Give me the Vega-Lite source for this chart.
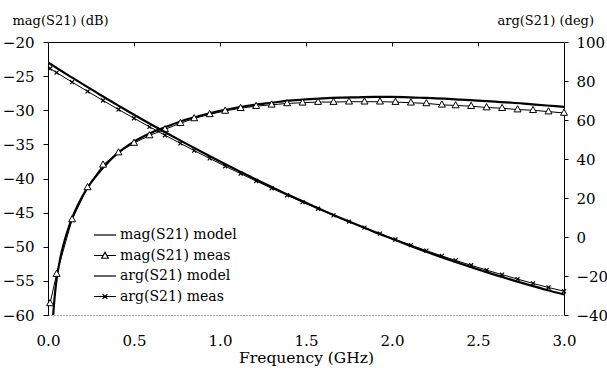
{
  "$schema": "https://vega.github.io/schema/vega-lite/v6.json",
  "width": 516,
  "height": 273,
  "autosize": {"type": "none"},
  "padding": {"left": 48, "top": 42, "right": 43, "bottom": 53},
  "background": "white",
  "config": {
    "font": "DejaVu Serif",
    "view": {"stroke": null},
    "axis": {
      "labelFont": "DejaVu Serif",
      "titleFont": "DejaVu Serif",
      "labelColor": "black",
      "titleColor": "black",
      "domainColor": "black",
      "tickColor": "black",
      "grid": false,
      "titleFontWeight": "normal",
      "labelFontSize": 15,
      "titleFontSize": 13,
      "labelFlush": false,
      "labelOverlap": false
    },
    "legend": {
      "labelFont": "DejaVu Serif",
      "labelFontSize": 14,
      "labelColor": "black"
    }
  },
  "data": {
    "values": [
      {"series": "mag(S21) model", "f": 0.03, "v": -60},
      {"series": "mag(S21) model", "f": 0.04, "v": -57.0},
      {"series": "mag(S21) model", "f": 0.05, "v": -54.8},
      {"series": "mag(S21) model", "f": 0.06, "v": -53.2},
      {"series": "mag(S21) model", "f": 0.08, "v": -50.7},
      {"series": "mag(S21) model", "f": 0.10, "v": -48.8},
      {"series": "mag(S21) model", "f": 0.12, "v": -47.2},
      {"series": "mag(S21) model", "f": 0.15, "v": -45.2},
      {"series": "mag(S21) model", "f": 0.20, "v": -42.6},
      {"series": "mag(S21) model", "f": 0.25, "v": -40.6},
      {"series": "mag(S21) model", "f": 0.30, "v": -39.0},
      {"series": "mag(S21) model", "f": 0.35, "v": -37.6},
      {"series": "mag(S21) model", "f": 0.40, "v": -36.4},
      {"series": "mag(S21) model", "f": 0.50, "v": -34.6},
      {"series": "mag(S21) model", "f": 0.60, "v": -33.3},
      {"series": "mag(S21) model", "f": 0.70, "v": -32.3},
      {"series": "mag(S21) model", "f": 0.80, "v": -31.4},
      {"series": "mag(S21) model", "f": 0.90, "v": -30.7},
      {"series": "mag(S21) model", "f": 1.00, "v": -30.1},
      {"series": "mag(S21) model", "f": 1.10, "v": -29.6},
      {"series": "mag(S21) model", "f": 1.20, "v": -29.2},
      {"series": "mag(S21) model", "f": 1.30, "v": -28.9},
      {"series": "mag(S21) model", "f": 1.40, "v": -28.6},
      {"series": "mag(S21) model", "f": 1.50, "v": -28.4},
      {"series": "mag(S21) model", "f": 1.60, "v": -28.25},
      {"series": "mag(S21) model", "f": 1.70, "v": -28.15},
      {"series": "mag(S21) model", "f": 1.80, "v": -28.1},
      {"series": "mag(S21) model", "f": 1.90, "v": -28.05},
      {"series": "mag(S21) model", "f": 2.00, "v": -28.05},
      {"series": "mag(S21) model", "f": 2.10, "v": -28.1},
      {"series": "mag(S21) model", "f": 2.20, "v": -28.2},
      {"series": "mag(S21) model", "f": 2.30, "v": -28.3},
      {"series": "mag(S21) model", "f": 2.40, "v": -28.45},
      {"series": "mag(S21) model", "f": 2.50, "v": -28.6},
      {"series": "mag(S21) model", "f": 2.60, "v": -28.75},
      {"series": "mag(S21) model", "f": 2.70, "v": -28.9},
      {"series": "mag(S21) model", "f": 2.80, "v": -29.1},
      {"series": "mag(S21) model", "f": 2.90, "v": -29.3},
      {"series": "mag(S21) model", "f": 3.00, "v": -29.5},

      {"series": "mag(S21) meas", "f": 0.012, "v": -58.3},
      {"series": "mag(S21) meas", "f": 0.05, "v": -54.0},
      {"series": "mag(S21) meas", "f": 0.14, "v": -46.0},
      {"series": "mag(S21) meas", "f": 0.23, "v": -41.3},
      {"series": "mag(S21) meas", "f": 0.32, "v": -38.0},
      {"series": "mag(S21) meas", "f": 0.41, "v": -36.2},
      {"series": "mag(S21) meas", "f": 0.50, "v": -34.8},
      {"series": "mag(S21) meas", "f": 0.59, "v": -33.7},
      {"series": "mag(S21) meas", "f": 0.68, "v": -32.8},
      {"series": "mag(S21) meas", "f": 0.77, "v": -31.9},
      {"series": "mag(S21) meas", "f": 0.85, "v": -31.2},
      {"series": "mag(S21) meas", "f": 0.94, "v": -30.6},
      {"series": "mag(S21) meas", "f": 1.03, "v": -30.1},
      {"series": "mag(S21) meas", "f": 1.12, "v": -29.7},
      {"series": "mag(S21) meas", "f": 1.21, "v": -29.4},
      {"series": "mag(S21) meas", "f": 1.30, "v": -29.2},
      {"series": "mag(S21) meas", "f": 1.39, "v": -29.0},
      {"series": "mag(S21) meas", "f": 1.48, "v": -28.9},
      {"series": "mag(S21) meas", "f": 1.57, "v": -28.8},
      {"series": "mag(S21) meas", "f": 1.66, "v": -28.8},
      {"series": "mag(S21) meas", "f": 1.75, "v": -28.75},
      {"series": "mag(S21) meas", "f": 1.84, "v": -28.75},
      {"series": "mag(S21) meas", "f": 1.93, "v": -28.75},
      {"series": "mag(S21) meas", "f": 2.02, "v": -28.8},
      {"series": "mag(S21) meas", "f": 2.11, "v": -28.9},
      {"series": "mag(S21) meas", "f": 2.20, "v": -29.0},
      {"series": "mag(S21) meas", "f": 2.29, "v": -29.2},
      {"series": "mag(S21) meas", "f": 2.37, "v": -29.3},
      {"series": "mag(S21) meas", "f": 2.46, "v": -29.4},
      {"series": "mag(S21) meas", "f": 2.55, "v": -29.6},
      {"series": "mag(S21) meas", "f": 2.64, "v": -29.7},
      {"series": "mag(S21) meas", "f": 2.73, "v": -29.9},
      {"series": "mag(S21) meas", "f": 2.82, "v": -30.0},
      {"series": "mag(S21) meas", "f": 2.91, "v": -30.2},
      {"series": "mag(S21) meas", "f": 3.00, "v": -30.4},

      {"series": "arg(S21) model", "f": 0.0, "v": 89.5},
      {"series": "arg(S21) model", "f": 0.1, "v": 83.9},
      {"series": "arg(S21) model", "f": 0.2, "v": 78.5},
      {"series": "arg(S21) model", "f": 0.3, "v": 73.1},
      {"series": "arg(S21) model", "f": 0.4, "v": 67.9},
      {"series": "arg(S21) model", "f": 0.5, "v": 62.7},
      {"series": "arg(S21) model", "f": 0.6, "v": 57.7},
      {"series": "arg(S21) model", "f": 0.7, "v": 52.8},
      {"series": "arg(S21) model", "f": 0.8, "v": 48.0},
      {"series": "arg(S21) model", "f": 0.9, "v": 43.3},
      {"series": "arg(S21) model", "f": 1.0, "v": 38.7},
      {"series": "arg(S21) model", "f": 1.1, "v": 34.3},
      {"series": "arg(S21) model", "f": 1.2, "v": 29.9},
      {"series": "arg(S21) model", "f": 1.3, "v": 25.7},
      {"series": "arg(S21) model", "f": 1.4, "v": 21.5},
      {"series": "arg(S21) model", "f": 1.5, "v": 17.5},
      {"series": "arg(S21) model", "f": 1.6, "v": 13.6},
      {"series": "arg(S21) model", "f": 1.7, "v": 9.8},
      {"series": "arg(S21) model", "f": 1.8, "v": 6.1},
      {"series": "arg(S21) model", "f": 1.9, "v": 2.5},
      {"series": "arg(S21) model", "f": 2.0, "v": -0.9},
      {"series": "arg(S21) model", "f": 2.1, "v": -4.3},
      {"series": "arg(S21) model", "f": 2.2, "v": -7.6},
      {"series": "arg(S21) model", "f": 2.3, "v": -10.7},
      {"series": "arg(S21) model", "f": 2.4, "v": -13.7},
      {"series": "arg(S21) model", "f": 2.5, "v": -16.6},
      {"series": "arg(S21) model", "f": 2.6, "v": -19.4},
      {"series": "arg(S21) model", "f": 2.7, "v": -22.1},
      {"series": "arg(S21) model", "f": 2.8, "v": -24.7},
      {"series": "arg(S21) model", "f": 2.9, "v": -27.2},
      {"series": "arg(S21) model", "f": 3.0, "v": -29.5},

      {"series": "arg(S21) meas", "f": 0.012, "v": 86.4},
      {"series": "arg(S21) meas", "f": 0.05, "v": 84.3},
      {"series": "arg(S21) meas", "f": 0.14, "v": 79.4},
      {"series": "arg(S21) meas", "f": 0.23, "v": 74.7},
      {"series": "arg(S21) meas", "f": 0.32, "v": 70.0},
      {"series": "arg(S21) meas", "f": 0.41, "v": 65.4},
      {"series": "arg(S21) meas", "f": 0.50, "v": 60.9},
      {"series": "arg(S21) meas", "f": 0.59, "v": 56.5},
      {"series": "arg(S21) meas", "f": 0.68, "v": 52.2},
      {"series": "arg(S21) meas", "f": 0.77, "v": 48.0},
      {"series": "arg(S21) meas", "f": 0.85, "v": 44.3},
      {"series": "arg(S21) meas", "f": 0.94, "v": 40.3},
      {"series": "arg(S21) meas", "f": 1.03, "v": 36.3},
      {"series": "arg(S21) meas", "f": 1.12, "v": 32.5},
      {"series": "arg(S21) meas", "f": 1.21, "v": 28.7},
      {"series": "arg(S21) meas", "f": 1.30, "v": 25.0},
      {"series": "arg(S21) meas", "f": 1.39, "v": 21.4},
      {"series": "arg(S21) meas", "f": 1.48, "v": 17.9},
      {"series": "arg(S21) meas", "f": 1.57, "v": 14.5},
      {"series": "arg(S21) meas", "f": 1.66, "v": 11.1},
      {"series": "arg(S21) meas", "f": 1.75, "v": 7.9},
      {"series": "arg(S21) meas", "f": 1.84, "v": 4.8},
      {"series": "arg(S21) meas", "f": 1.93, "v": 1.7},
      {"series": "arg(S21) meas", "f": 2.02, "v": -1.3},
      {"series": "arg(S21) meas", "f": 2.11, "v": -4.2},
      {"series": "arg(S21) meas", "f": 2.20, "v": -7.0},
      {"series": "arg(S21) meas", "f": 2.29, "v": -9.7},
      {"series": "arg(S21) meas", "f": 2.37, "v": -12.0},
      {"series": "arg(S21) meas", "f": 2.46, "v": -14.5},
      {"series": "arg(S21) meas", "f": 2.55, "v": -17.0},
      {"series": "arg(S21) meas", "f": 2.64, "v": -19.3},
      {"series": "arg(S21) meas", "f": 2.73, "v": -21.6},
      {"series": "arg(S21) meas", "f": 2.82, "v": -23.8},
      {"series": "arg(S21) meas", "f": 2.91, "v": -25.9},
      {"series": "arg(S21) meas", "f": 3.00, "v": -27.8}
    ]
  },
  "layer": [
    {
      "encoding": {
        "x": {
          "field": "f", "type": "quantitative",
          "scale": {"domain": [0, 3], "nice": false, "zero": false},
          "axis": {
            "orient": "bottom",
            "values": [0, 0.5, 1, 1.5, 2, 2.5, 3],
            "format": ".1f",
            "ticks": false,
            "tickSize": 0,
            "labelPadding": 18,
            "domainDash": [1, 2],
            "domainColor": "#555555",
            "title": "Frequency (GHz)",
            "titleFontSize": 15.5,
            "titlePadding": 2
          }
        },
        "y": {
          "field": "v", "type": "quantitative",
          "scale": {"domain": [-60, -20], "nice": false, "zero": false},
          "axis": {
            "orient": "left",
            "values": [-20, -25, -30, -35, -40, -45, -50, -55, -60],
            "tickSize": 5,
            "labelPadding": 9,
            "title": "mag(S21) (dB)",
            "titleAngle": 0,
            "titleAlign": "left",
            "titleBaseline": "middle",
            "titleX": -36,
            "titleY": -22
          }
        }
      },
      "layer": [
        {
          "transform": [{"filter": "datum.series === 'mag(S21) model'"}],
          "mark": {"type": "line", "color": "black", "strokeWidth": 2.2, "interpolate": "monotone", "clip": true},
          "encoding": {}
        },
        {
          "transform": [{"filter": "datum.series === 'mag(S21) meas'"}],
          "mark": {"type": "line", "color": "black", "strokeWidth": 1, "clip": true},
          "encoding": {}
        },
        {
          "transform": [{"filter": "datum.series === 'mag(S21) meas'"}],
          "mark": {"type": "point", "shape": "M0,-1L0.9,0.6L-0.9,0.6Z", "size": 60, "filled": true, "fill": "white", "stroke": "black", "strokeWidth": 1, "opacity": 1},
          "encoding": {}
        },
        {
          "transform": [{"filter": "false"}],
          "mark": {"type": "point", "filled": false, "color": "black", "strokeWidth": 1},
          "encoding": {
            "shape": {
              "field": "series", "type": "nominal",
              "scale": {
                "domain": ["mag(S21) model", "mag(S21) meas", "arg(S21) model", "arg(S21) meas"],
                "range": [
                  "M-1,0H1",
                  "M-1,0H-0.15M0.15,0H1M0,-0.3L0.3,0.25L-0.3,0.25Z",
                  "M-1,0H1",
                  "M-1,0H1M-0.22,-0.22L0.22,0.22M-0.22,0.22L0.22,-0.22"
                ]
              },
              "legend": {
                "title": null,
                "orient": "none",
                "legendX": 45,
                "legendY": 181,
                "padding": 0,
                "symbolSize": 484,
                "symbolStrokeColor": "black",
                "symbolFillColor": "transparent",
                "symbolStrokeWidth": 1.2,
                "symbolOpacity": 1,
                "labelOffset": 3,
                "rowPadding": 1.5,
                "encode": {
                  "symbols": {
                    "update": {
                      "strokeWidth": {"signal": "indexof(datum.value, 'model') >= 0 ? 2 : 1.2"},
                      "opacity": {"value": 1}
                    }
                  }
                }
              }
            }
          }
        }
      ]
    },
    {
      "encoding": {
        "x": {
          "field": "f", "type": "quantitative",
          "scale": {"domain": [0, 3], "nice": false, "zero": false},
          "axis": {
            "orient": "top",
            "values": [0.5, 1, 1.5, 2, 2.5],
            "labels": false,
            "title": null,
            "tickSize": -4
          }
        },
        "y": {
          "field": "v", "type": "quantitative",
          "scale": {"domain": [-40, 100], "nice": false, "zero": false},
          "axis": {
            "orient": "right",
            "values": [100, 80, 60, 40, 20, 0, -20, -40],
            "tickSize": 4,
            "labelPadding": 8,
            "title": "arg(S21) (deg)",
            "titleAngle": 0,
            "titleAlign": "left",
            "titleBaseline": "middle",
            "titleX": -67,
            "titleY": -22,
            "encode": {"ticks": {"update": {"x": {"value": -4}}}}
          }
        }
      },
      "layer": [
        {
          "transform": [{"filter": "datum.series === 'arg(S21) model'"}],
          "mark": {"type": "line", "color": "black", "strokeWidth": 2.2, "interpolate": "monotone", "clip": true},
          "encoding": {}
        },
        {
          "transform": [{"filter": "datum.series === 'arg(S21) meas'"}],
          "mark": {"type": "line", "color": "black", "strokeWidth": 1, "clip": true},
          "encoding": {}
        },
        {
          "transform": [{"filter": "datum.series === 'arg(S21) meas'"}],
          "mark": {"type": "point", "shape": "M-1,-1L1,1M-1,1L1,-1", "size": 16, "filled": false, "stroke": "black", "strokeWidth": 1.2, "opacity": 1},
          "encoding": {}
        }
      ]
    }
  ],
  "resolve": {"scale": {"y": "independent"}, "axis": {"x": "independent"}}
}
